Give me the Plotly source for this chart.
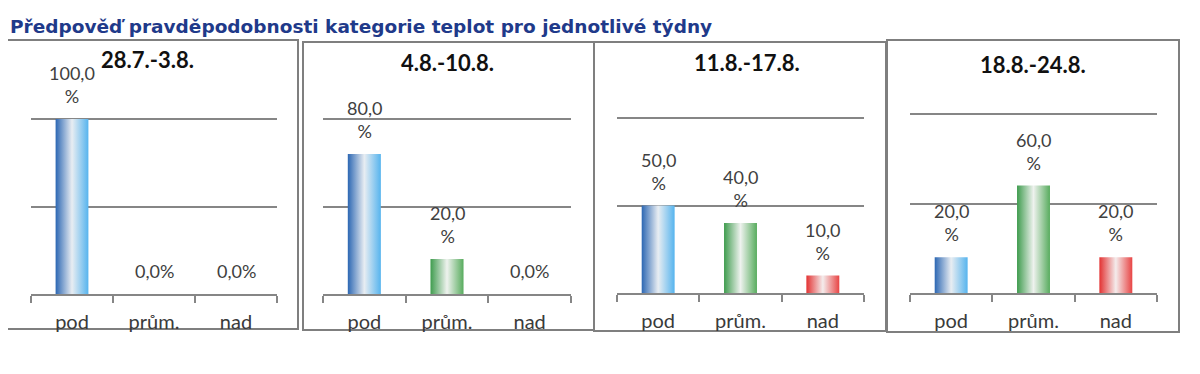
import plotly.graph_objects as go

# ---- data ----
weeks = ["28.7.-3.8.", "4.8.-10.8.", "11.8.-17.8.", "18.8.-24.8."]
categories = ["pod", "prům.", "nad"]
pod = [100.0, 80.0, 50.0, 20.0]
prum = [0.0, 20.0, 40.0, 60.0]
nad = [0.0, 0.0, 10.0, 20.0]
chart_title = "Předpověď pravděpodobnosti kategorie teplot pro jednotlivé týdny"

# ---- layout (pixels in the page; the page body has an 8px margin) ----
OFF = 8
W, H = 1200 - 2 * OFF, 374 - 2 * OFF
def px(x):
    return (x - OFF) / W
def py(y):
    return 1 - (y - OFF) / H

# box, axis x-extent, y of 0, y of 100, title centre
panels = [
    dict(box=(7, 40, 298, 329), ax=(31, 277), y0=294, y100=119, tc=(147, 60)),
    dict(box=(303, 42, 594, 330), ax=(323, 571), y0=294, y100=119, tc=(447, 62)),
    dict(box=(594, 42, 886, 331), ax=(617, 864), y0=293, y100=118, tc=(747, 62)),
    dict(box=(887, 40, 1179, 332), ax=(910, 1157), y0=293, y100=114, tc=(1033, 65)),
]

gradients = [
    [[0, "#2C67B3"], [0.5, "#E8EDF2"], [1, "#56B4EE"]],
    [[0, "#3F9C4E"], [0.5, "#EEF2EE"], [1, "#58AC5E"]],
    [[0, "#E33232"], [0.5, "#F4ECEC"], [1, "#E84444"]],
]
bar_w = 0.4
grey = "#868686"
label_col = "#404040"
label_font = "Lato, 'Open Sans', sans-serif"

fig = go.Figure()
shapes = []
annotations = []

for i, p in enumerate(panels):
    vals = [pod[i], prum[i], nad[i]]
    xa = "x" if i == 0 else f"x{i+1}"
    ya = "y" if i == 0 else f"y{i+1}"
    for c, v in enumerate(vals):
        if v > 0:
            fig.add_trace(go.Scatter(
                x=[c - bar_w / 2, c + bar_w / 2, c + bar_w / 2, c - bar_w / 2, c - bar_w / 2],
                y=[0, 0, v, v, 0],
                mode="lines", line=dict(width=0),
                fill="toself",
                fillgradient=dict(type="horizontal", colorscale=gradients[c]),
                xaxis=xa, yaxis=ya, showlegend=False, hoverinfo="skip",
            ))
        txt = f"{v:.1f}".replace(".", ",")
        txt = txt + ("<br>%" if v > 0 else "%")
        annotations.append(dict(
            x=c, y=v, xref=xa, yref=ya, text=txt, showarrow=False,
            xanchor="center", yanchor="bottom", yshift=10,
            font=dict(family=label_font, size=18, color=label_col),
        ))
    ytop = p["y100"] - 3
    rng_top = 100 * (p["y0"] - ytop) / (p["y0"] - p["y100"])
    dom_x = [px(p["ax"][0]), px(p["ax"][1])]
    dom_y = [py(p["y0"]), py(ytop)]
    xkey = "xaxis" if i == 0 else f"xaxis{i+1}"
    ykey = "yaxis" if i == 0 else f"yaxis{i+1}"
    fig.layout[xkey] = dict(
        domain=dom_x, anchor=ya, range=[-0.5, 2.5],
        tickmode="array", tickvals=[0, 1, 2], ticktext=categories,
        ticks="", showgrid=False, zeroline=False,
        showline=True, linecolor=grey, linewidth=1.5,
        tickfont=dict(family=label_font, size=20, color="#3A3A3A"),
        ticklabelstandoff=9,
        minor=dict(tickmode="array", tickvals=[-0.5, 0.5, 1.5, 2.5], ticks="outside",
                   ticklen=7, tickwidth=1.5, tickcolor=grey, showgrid=False),
        fixedrange=True,
    )
    fig.layout[ykey] = dict(
        domain=dom_y, anchor=xa, range=[0, rng_top],
        tickmode="array", tickvals=[0, 50, 100], showticklabels=False,
        showgrid=True, gridcolor=grey, gridwidth=1.5, zeroline=False,
        showline=False, ticks="", fixedrange=True,
    )
    x0, y0, x1, y1 = p["box"]
    shapes.append(dict(type="rect", xref="paper", yref="paper",
                       x0=px(x0), x1=px(x1), y0=py(y1), y1=py(y0),
                       line=dict(color="#7F7F7F", width=2), fillcolor="rgba(0,0,0,0)",
                       layer="below"))
    annotations.append(dict(
        x=px(p["tc"][0]), y=py(p["tc"][1]), xref="paper", yref="paper",
        text=f"<b>{weeks[i]}</b>", showarrow=False, xanchor="center", yanchor="middle",
        font=dict(family=label_font, size=22, color="#111111"),
    ))

annotations.append(dict(
    x=px(8), y=py(26), xref="paper", yref="paper", text=f"<b>{chart_title}</b>",
    showarrow=False, xanchor="left", yanchor="middle",
    font=dict(family="DejaVu Sans, Verdana, sans-serif", size=18.5, color="#1F3A8A"),
))

fig.update_layout(
    width=W, height=H, margin=dict(l=0, r=0, t=0, b=0),
    paper_bgcolor="white", plot_bgcolor="white",
    shapes=shapes, annotations=annotations, showlegend=False,
)

fig.write_html("out.html")
